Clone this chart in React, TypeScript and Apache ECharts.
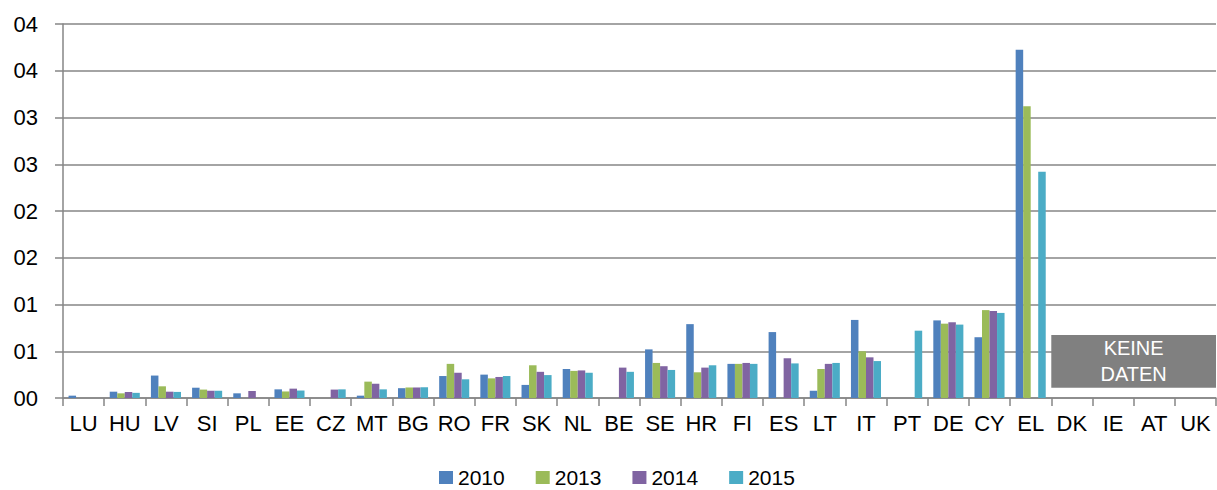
import React, { useEffect, useRef } from "react";
import * as echarts from "echarts";

const categories = ["LU","HU","LV","SI","PL","EE","CZ","MT","BG","RO","FR","SK","NL","BE","SE","HR","FI","ES","LT","IT","PT","DE","CY","EL","DK","IE","AT","UK"];
const yTickLabels = ["00","01","01","02","02","03","03","04","04"];
const seriesNames = ["2010","2013","2014","2015"];
const colors = ["#4F81BD","#9BBB59","#8064A2","#4BACC6"];

const v2010 = [0.05,0.135,0.48,0.22,0.1,0.185,null,0.05,0.21,0.47,0.5,0.28,0.62,null,1.04,1.58,0.73,1.41,0.155,1.67,null,1.66,1.3,7.45,null,null,null,null];
const v2013 = [null,0.1,0.25,0.18,null,0.14,null,0.35,0.225,0.73,0.42,0.7,0.58,null,0.75,0.55,0.73,null,0.62,1.0,null,1.59,1.88,6.24,null,null,null,null];
const v2014 = [null,0.13,0.135,0.155,0.15,0.2,0.18,0.305,0.225,0.54,0.45,0.56,0.59,0.65,0.68,0.65,0.75,0.85,0.73,0.87,null,1.62,1.86,null,null,null,null,null];
const v2015 = [null,0.11,0.13,0.155,null,0.16,0.185,0.185,0.23,0.4,0.47,0.49,0.54,0.56,0.6,0.7,0.73,0.74,0.75,0.79,1.44,1.57,1.82,4.84,null,null,null,null];

const noDataFrom = "DK";
const noDataTo = "UK";
const noDataLow = 0.22;
const noDataHigh = 1.35;
const noDataText = "KEINE\nDATEN";

export default function App() {
  const ref = useRef<HTMLDivElement>(null);
  useEffect(() => {
    if (!ref.current) return;
    const chart = echarts.init(ref.current, null, { renderer: "svg" });
    const values = [v2010, v2013, v2014, v2015];
    const font = "Liberation Sans, Arial, sans-serif";
    chart.setOption({
      animation: false,
      textStyle: { fontFamily: font },
      grid: { left: 63, right: 1, top: 24, bottom: 92, containLabel: false },
      legend: {
        data: seriesNames,
        top: 467,
        left: 439,
        padding: 0,
        itemWidth: 14,
        itemHeight: 13,
        itemGap: 31,
        icon: "rect",
        textStyle: { fontSize: 21, lineHeight: 20, color: "#000", fontFamily: font, padding: [0, 0, 0, 0] },
      },
      xAxis: {
        type: "category",
        data: categories,
        axisLine: { lineStyle: { color: "#868686", width: 1.5 } },
        axisTick: { show: true, length: 8, lineStyle: { color: "#868686", width: 1.5 } },
        axisLabel: { color: "#000", fontSize: 22, margin: 14, interval: 0, fontFamily: font },
      },
      yAxis: {
        type: "value",
        min: 0,
        max: 8,
        interval: 1,
        axisLine: { show: true, lineStyle: { color: "#868686", width: 1.5 } },
        axisTick: { show: true, length: 8, lineStyle: { color: "#868686", width: 1.5 } },
        splitLine: { lineStyle: { color: "#868686", width: 1.5 } },
        axisLabel: {
          color: "#000",
          fontSize: 22,
          margin: 25,
          fontFamily: font,
          formatter: (_v: number, i: number) => yTickLabels[i] ?? "",
        },
      },
      series: seriesNames.map((name, i) => ({
        name,
        type: "bar",
        data: values[i],
        barGap: "0%",
        barCategoryGap: "27%",
        itemStyle: { color: colors[i] },
        ...(i === 0
          ? {
              markArea: {
                silent: true,
                itemStyle: { color: "#808080" },
                label: {
                  show: true,
                  position: "inside",
                  color: "#fff",
                  fontSize: 20,
                  lineHeight: 26,
                  fontFamily: font,
                  formatter: noDataText,
                },
                data: [[
                  { xAxis: noDataFrom, yAxis: noDataHigh },
                  { xAxis: noDataTo, yAxis: noDataLow },
                ]],
              },
            }
          : {}),
      })),
    });
    return () => chart.dispose();
  }, []);
  return <div ref={ref} style={{ width: 1217, height: 490, position: "absolute", left: 0, top: 0 }} />;
}
